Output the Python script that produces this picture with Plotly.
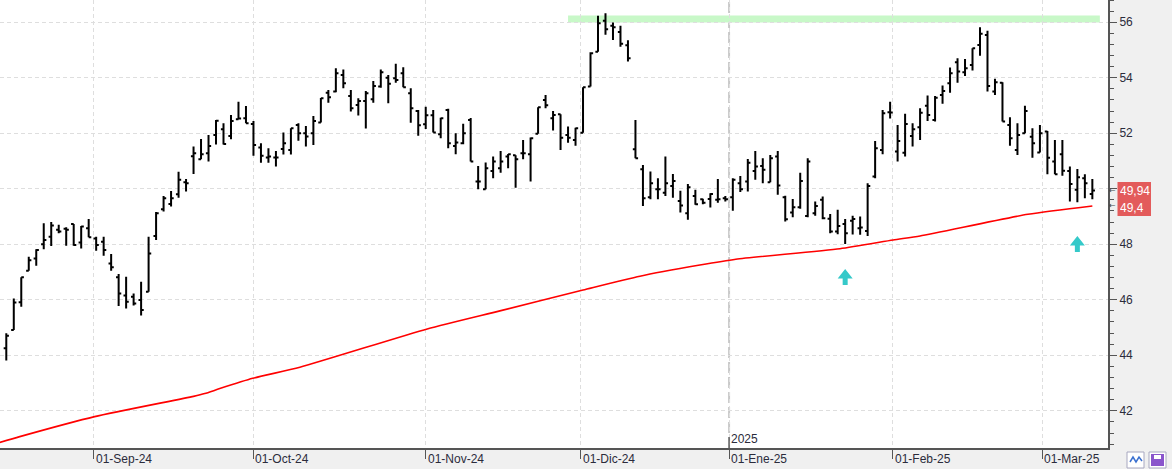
import plotly.graph_objects as go
import pandas as pd

# ---------------- data ----------------
holidays = ["2024-12-25", "2024-12-26", "2025-01-01"]
dates = [d for d in pd.bdate_range("2024-08-15", "2025-03-11")
         if d.strftime("%Y-%m-%d") not in holidays]
x_idx = list(range(len(dates)))

opens = [44.25, 44.91, 45.91, 47.05, 47.49, 48.00, 48.27, 48.52, 48.56, 48.73,
         48.06, 48.58, 48.21, 48.09, 47.31, 46.81, 46.15, 46.11, 45.99, 46.29,
         48.30, 49.26, 49.45, 49.80, 50.23, 51.17, 51.06, 51.28, 51.94, 52.14,
         51.90, 52.50, 52.54, 52.33, 51.49, 51.13, 51.13, 51.43, 51.40, 52.30,
         52.00, 52.00, 52.39, 53.46, 53.50, 54.10, 53.34, 53.02, 53.16, 53.22,
         53.68, 54.00, 53.98, 54.16, 53.44, 52.80, 52.32, 52.65, 51.96, 52.84,
         51.54, 51.64, 52.48, 50.26, 49.98, 50.64, 50.74, 51.16, 51.21, 51.28,
         51.24, 51.98, 53.20, 52.54, 52.68, 51.94, 51.76, 52.02, 53.68, 54.94,
         56.05, 55.87, 55.65, 55.17, 51.42, 50.70, 49.69, 49.98, 49.86, 50.10,
         49.56, 49.12, 49.74, 49.62, 49.63, 49.60, 49.66, 49.69, 50.20, 50.26,
         50.64, 50.82, 50.23, 51.16, 49.69, 49.14, 49.33, 49.02, 49.12, 49.60,
         48.92, 48.46, 48.73, 48.85, 48.58, 48.48, 50.44, 51.40, 52.76, 51.34,
         51.30, 51.90, 52.22, 52.99, 52.48, 53.38, 53.80, 54.56, 54.20, 54.46,
         55.18, 55.54, 53.50, 53.82, 52.30, 51.40, 52.00, 51.87, 51.31, 52.06,
         50.98, 51.24, 50.64, 49.96, 50.38, 49.81]
highs = [44.79, 46.05, 46.81, 47.55, 47.82, 48.76, 48.80, 48.70, 48.61, 48.73,
         48.66, 48.91, 48.27, 48.27, 47.65, 46.93, 46.83, 46.23, 46.65, 48.27,
         49.16, 49.74, 49.92, 50.61, 50.35, 51.52, 51.79, 51.94, 52.48, 52.36,
         52.66, 53.13, 52.98, 52.44, 51.64, 51.46, 51.36, 52.03, 52.18, 52.36,
         52.26, 52.62, 53.27, 53.56, 54.34, 54.30, 53.56, 53.26, 53.52, 53.88,
         54.30, 54.10, 54.50, 54.38, 53.62, 52.84, 52.95, 52.84, 52.56, 52.88,
         52.00, 52.34, 52.55, 50.82, 50.95, 51.16, 51.36, 51.25, 51.21, 51.76,
         51.85, 52.94, 53.38, 52.80, 52.68, 52.24, 52.20, 53.66, 54.92, 56.23,
         56.32, 55.99, 55.87, 55.35, 52.48, 50.86, 50.62, 50.38, 51.16, 50.53,
         49.93, 50.17, 49.96, 49.64, 49.84, 50.35, 49.74, 50.38, 50.46, 51.07,
         51.36, 51.10, 51.22, 51.36, 49.75, 49.63, 50.58, 51.10, 49.54, 49.72,
         49.09, 49.24, 48.91, 49.03, 49.00, 50.20, 51.72, 52.84, 53.13, 52.30,
         52.70, 52.36, 52.90, 53.36, 53.34, 53.72, 54.37, 54.70, 54.67, 55.06,
         55.82, 55.69, 53.96, 53.84, 52.58, 52.36, 52.99, 52.18, 52.30, 52.08,
         51.76, 51.76, 50.80, 50.71, 50.52, 50.35]
lows = [43.81, 44.91, 45.75, 47.05, 47.23, 47.82, 47.94, 48.40, 47.95, 47.95,
        47.85, 48.25, 47.77, 47.59, 47.05, 45.78, 45.69, 45.79, 45.43, 46.29,
        48.15, 49.18, 49.36, 49.68, 49.90, 50.53, 51.06, 50.98, 51.59, 51.59,
        51.78, 52.50, 52.36, 51.19, 50.94, 50.94, 50.80, 51.23, 51.23, 51.73,
        51.52, 51.58, 52.39, 53.10, 53.48, 53.62, 52.78, 52.64, 52.17, 53.10,
        53.64, 53.08, 53.82, 53.66, 52.38, 51.91, 52.15, 52.03, 51.82, 51.46,
        51.24, 51.60, 50.98, 49.98, 49.98, 50.38, 50.58, 50.74, 50.04, 51.06,
        50.26, 51.98, 52.90, 52.10, 51.40, 51.66, 51.55, 52.02, 53.68, 54.94,
        55.55, 55.36, 55.12, 54.58, 51.10, 49.38, 49.62, 49.62, 49.74, 49.68,
        49.14, 48.88, 49.42, 49.44, 49.32, 49.50, 49.54, 49.21, 49.88, 49.90,
        50.32, 50.20, 50.23, 49.78, 48.82, 48.97, 49.28, 48.97, 49.03, 48.90,
        48.40, 48.36, 48.01, 48.35, 48.34, 48.30, 50.38, 51.24, 52.53, 50.98,
        51.16, 51.52, 51.76, 52.44, 52.42, 53.06, 53.46, 53.82, 54.06, 54.26,
        54.79, 53.50, 53.38, 52.42, 51.55, 51.22, 52.00, 51.12, 51.31, 50.52,
        50.52, 50.47, 49.54, 49.51, 49.66, 49.62]
closes = [44.70, 45.90, 46.81, 47.42, 47.79, 48.15, 48.68, 48.46, 48.52, 47.97,
          48.64, 48.25, 47.97, 47.79, 47.17, 46.23, 45.93, 45.87, 45.63, 47.67,
          49.12, 49.66, 49.66, 50.32, 50.20, 51.28, 51.24, 51.54, 52.45, 51.61,
          52.44, 52.53, 52.36, 51.58, 51.19, 51.16, 51.13, 51.64, 52.18, 52.00,
          51.88, 52.44, 53.26, 53.30, 54.16, 53.80, 52.90, 53.16, 53.44, 53.70,
          54.20, 53.78, 53.92, 53.66, 52.90, 52.29, 52.65, 52.03, 52.54, 51.64,
          51.67, 52.00, 50.98, 50.26, 50.74, 50.98, 50.98, 51.24, 51.06, 51.28,
          51.82, 52.94, 53.01, 52.66, 51.84, 51.84, 52.18, 53.66, 54.88, 55.96,
          55.75, 55.82, 55.22, 54.70, 51.10, 49.66, 50.20, 49.98, 50.20, 50.28,
          49.40, 50.05, 49.44, 49.50, 49.81, 49.62, 49.62, 50.32, 49.98, 50.94,
          50.80, 50.68, 51.10, 50.12, 48.90, 49.33, 50.28, 50.98, 49.38, 48.94,
          48.46, 48.66, 48.40, 48.91, 48.60, 50.10, 51.46, 52.72, 52.75, 51.72,
          52.33, 52.14, 52.74, 52.66, 53.28, 53.52, 54.16, 54.22, 54.34, 55.06,
          55.58, 53.70, 53.84, 52.42, 51.82, 51.94, 52.80, 51.64, 52.00, 51.12,
          50.52, 50.65, 50.17, 50.41, 50.20, 49.94]

# moving average read at selected bars (bar index, value)
ma_idx = [-1, 1.8, 11.8, 25.0, 26.5, 28.5, 32.9, 39.2, 56.2, 65.9, 77.0, 84.6,
          92.6, 97.4, 111.3, 118.4, 122.0, 136.4, 145]
ma_vals = [40.85, 41.07, 41.79, 42.52, 42.62, 42.80, 43.17, 43.57, 44.95, 45.60,
           46.35, 46.85, 47.25, 47.46, 47.84, 48.155, 48.30, 49.08, 49.38]

last_close_label = "49,94"
ma_label = "49,4"
last_close = 49.94
ma_last = 49.4

# y-axis ticks (the 50 label is hidden behind the price labels in the original)
y_tickvals = [42, 44, 46, 48, 50, 52, 54, 56]
y_ticktext = ["42", "44", "46", "48", "", "52", "54", "56"]

# resistance band
band_start_idx, band_end_idx = 75.0, 146.0
band_low, band_high = 55.99, 56.24

# signal arrows (bar index, tip value)
arrow_idx = [112.0, 143.0]
arrow_tip = [47.11, 48.30]

month_labels = ["01-Sep-24", "01-Oct-24", "01-Nov-24", "01-Dic-24",
                "01-Ene-25", "01-Feb-25", "01-Mar-25"]
month_starts = ["2024-09-01", "2024-10-01", "2024-11-01", "2024-12-01",
                "2025-01-01", "2025-02-01", "2025-03-01"]
year_label = "2025"

# ---------------- tick positions from calendar ----------------
def month_pos(ms):
    m = pd.Timestamp(ms)
    nxt = next(i for i, d in enumerate(dates) if d >= m)
    if dates[nxt] == m or nxt == 0:
        return float(nxt)
    prv = nxt - 1
    frac = (m - dates[prv]).days / (dates[nxt] - dates[prv]).days
    return prv + frac

tick_pos = [month_pos(m) for m in month_starts]
jan_pos = tick_pos[4]

# ---------------- figure ----------------
W, H = 1172, 469
PL, PR, PT, PB = 0, 64, 0, 21
plot_w = W - PL - PR
plot_h = H - PT - PB

def px_x(p):
    return (p - PL) / plot_w

def px_y(p):
    return (PT + plot_h - p) / plot_h

fig = go.Figure()

fig.add_trace(go.Ohlc(
    x=x_idx, open=opens, high=highs, low=lows, close=closes,
    increasing=dict(line=dict(color="black", width=2)),
    decreasing=dict(line=dict(color="black", width=2)),
    tickwidth=0.35, hoverinfo="skip", showlegend=False,
))

fig.add_trace(go.Scatter(
    x=ma_idx, y=ma_vals, mode="lines",
    line=dict(color="#ff0000", width=1.6, shape="spline", smoothing=0.6),
    hoverinfo="skip", showlegend=False,
))

shapes = []
# resistance band
shapes.append(dict(type="rect", xref="x", yref="y", x0=band_start_idx, x1=band_end_idx,
                   y0=band_low, y1=band_high, fillcolor="#c8f8c8",
                   line=dict(width=0), layer="below"))
# year separator
shapes.append(dict(type="line", xref="x", yref="paper", x0=jan_pos, x1=jan_pos,
                   y0=0, y1=1, line=dict(color="#c8c8c8", width=2, dash="11px,4px"),
                   layer="below"))
shapes.append(dict(type="line", xref="x", yref="paper", x0=jan_pos, x1=jan_pos,
                   y0=0, y1=px_y(437), line=dict(color="#333333", width=1)))
# signal arrows (fixed pixel size, anchored at data position of the tip)
arrow_path = "M 0,0 L 7.5,-9.5 L 2.5,-9.5 L 2.5,-16 L -2.5,-16 L -2.5,-9.5 L -7.5,-9.5 Z"
for ai, tip in zip(arrow_idx, arrow_tip):
    shapes.append(dict(type="path", xref="x", yref="y",
                       xsizemode="pixel", ysizemode="pixel",
                       xanchor=ai, yanchor=tip, path=arrow_path,
                       fillcolor="#35c9c9", line=dict(width=0)))
# combined red price-label box
shapes.append(dict(type="rect", xref="paper", yref="y", ysizemode="pixel",
                   yanchor=last_close, x0=px_x(1117.5), x1=px_x(1151),
                   y0=8.5, y1=-25.5, fillcolor="#e35b5b", line=dict(width=0)))
# bottom-right icons
for (a, b) in [(1127, 1144), (1149, 1166)]:
    shapes.append(dict(type="rect", xref="paper", yref="paper",
                       x0=px_x(a), x1=px_x(b), y0=px_y(468), y1=px_y(452),
                       fillcolor="white", line=dict(color="#a8a8c0", width=1)))
zig = [(1130, 462), (1133, 457), (1136, 462), (1139, 457), (1142, 461)]
path = "M " + " L ".join(f"{px_x(a):.5f},{px_y(b):.5f}" for a, b in zig)
shapes.append(dict(type="path", xref="paper", yref="paper", path=path,
                   line=dict(color="#3a70d0", width=1.5)))
shapes.append(dict(type="rect", xref="paper", yref="paper",
                   x0=px_x(1151), x1=px_x(1164), y0=px_y(466), y1=px_y(454),
                   fillcolor="#8a55cc", line=dict(width=0)))
shapes.append(dict(type="rect", xref="paper", yref="paper",
                   x0=px_x(1154), x1=px_x(1161), y0=px_y(459), y1=px_y(455),
                   fillcolor="white", line=dict(width=0)))

annotations = []
for pos, lab in zip(tick_pos, month_labels):
    annotations.append(dict(x=pos, y=0, xref="x", yref="paper", text=lab,
                            showarrow=False, xanchor="left", yanchor="top",
                            xshift=0, yshift=-2,
                            font=dict(family="Liberation Sans", size=12, color="#2b2b3b")))
annotations.append(dict(x=jan_pos, y=0, xref="x", yref="paper", text=year_label,
                        showarrow=False, xanchor="left", yanchor="bottom",
                        xshift=0, yshift=0,
                        font=dict(family="Liberation Sans", size=12, color="#2b2b3b")))
# price labels
for val, lab, ys in [(last_close, last_close_label, -0.5), (ma_last, ma_label, -2.5)]:
    annotations.append(dict(x=px_x(1119), y=val, xref="paper", yref="y", text=lab,
                            showarrow=False, xanchor="left", yanchor="middle",
                            height=14, borderpad=0, yshift=ys,
                            font=dict(family="Liberation Sans", size=12, color="white")))
    annotations.append(dict(x=px_x(1112.5), y=val, xref="paper", yref="y", text="←",
                            showarrow=False, xanchor="center", yanchor="middle",
                            height=10, borderpad=0,
                            font=dict(family="DejaVu Sans", size=8, color="#444444")))

fig.update_layout(
    width=W, height=H,
    margin=dict(l=PL, r=PR, t=PT, b=PB),
    paper_bgcolor="#f0f0f0", plot_bgcolor="white",
    shapes=shapes, annotations=annotations,
    showlegend=False,
    xaxis=dict(range=[-0.84, 147.09], tickvals=tick_pos, showticklabels=False,
               ticks="outside", ticklen=9, tickcolor="#555555",
               showgrid=True, gridcolor="#dedede", griddash="4px,3px", gridwidth=1,
               showline=True, linecolor="#555555", linewidth=2,
               zeroline=False, rangeslider=dict(visible=False), fixedrange=True),
    yaxis=dict(range=[40.66, 56.80], side="right",
               tickmode="array", tickvals=y_tickvals, ticktext=y_ticktext,
               ticks="outside", ticklen=7, tickcolor="#555555",
               showgrid=True, gridcolor="#dedede", griddash="4px,3px", gridwidth=1,
               showline=True, linecolor="#555555", linewidth=2, zeroline=False,
               tickfont=dict(family="Liberation Sans", size=12, color="#2b2b3b"),
               minor=dict(dtick=0.4, tick0=0, ticks="outside", ticklen=4,
                          tickcolor="#555555", showgrid=False),
               fixedrange=True),
)

fig.write_html("out.html")
